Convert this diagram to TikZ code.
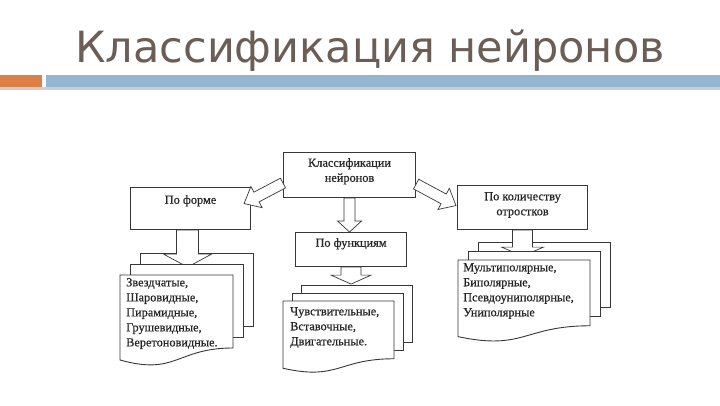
\documentclass[tikz,border=0pt]{standalone}
\usepackage{fontspec}
\setmainfont{Liberation Serif}
\newfontfamily\titlefont{DejaVu Sans}
\newfontfamily\diagfont[FakeBold=0.6]{Liberation Serif}
\usetikzlibrary{calc}

\definecolor{titlecol}{RGB}{107,94,86}
\definecolor{orangebar}{RGB}{221,128,71}
\definecolor{bluebar}{RGB}{148,182,210}
\definecolor{graybar}{RGB}{205,205,205}
\definecolor{linecol}{RGB}{55,55,55}

\tikzset{
  boxsty/.style={draw=linecol, line width=1.1pt, fill=white, inner sep=0pt},
  pagesty/.style={draw=linecol, line width=0.9pt, fill=white},
  arrsty/.style={draw=linecol, line width=0.7pt, fill=white, line join=miter},
  txt/.style={font=\diagfont\fontsize{12.3}{15}\selectfont, inner sep=0pt, text=black!85},
  boxtxt/.style={txt, align=center, anchor=north},
  listtxt/.style={txt, align=left, anchor=north west},
}

% block arrow: tail, tip, shaft half width, head half width, head length
\newcommand\blockarr[5]{%
  \draw[arrsty] let \p1=(#1), \p2=(#2),
      \n1={atan2(\y2-\y1,\x2-\x1)}, \n2={veclen(\x2-\x1,\y2-\y1)} in
    ($(\p1)+(\n1+90:#3)$) -- ++(\n1:{\n2-#5}) -- ++(\n1+90:{#4-#3}) -- (\p2)
    -- ($(\p2)+(\n1:-#5)+(\n1-90:#4)$) -- ++(\n1+90:{#4-#3})
    -- ++(\n1:{-(\n2-#5)}) -- cycle;}

% document stack: left, top, width, height, dx, dy
\newcommand\backpage[6]{%
  \filldraw[pagesty] ({#1+2*#5},{#2-2*#6}) rectangle ({#1+2*#5+#3},{#2-2*#6+0.802*#4});}
\newcommand\frontpages[6]{%
  \filldraw[pagesty] ({#1+#5},{#2-#6}) rectangle ({#1+#5+#3},{#2-#6+0.802*#4});
  \filldraw[pagesty] (#1,#2) -- ({#1+#3},#2) -- ({#1+#3},{#2+0.802*#4})
    .. controls ({#1+0.5*#3},{#2+0.802*#4}) and ({#1+0.5*#3},{#2+1.108*#4})
    .. (#1,{#2+0.934*#4}) -- cycle;}

\begin{document}
\begin{tikzpicture}[x=1pt, y=-1pt]
\useasboundingbox (0,0) rectangle (720,405);
\fill[white] (0,0) rectangle (720,405);

% title and bars
\node[font=\titlefont\fontsize{43}{50}\selectfont, text=titlecol, anchor=base, inner sep=0pt]
  (title) at (370,62) {Классификация нейронов};
\fill[graybar] (0,87) rectangle (720,90);
\fill[orangebar] (0,75) rectangle (42,87);
\fill[bluebar] (46,75) rectangle (720,87);

% boxes
\node[boxsty, anchor=north west, minimum width=132pt, minimum height=45pt] (top) at (283,152) {};
\node[boxsty, anchor=north west, minimum width=120pt, minimum height=42pt] (form) at (130,187) {};
\node[boxsty, anchor=north west, minimum width=111pt, minimum height=34pt] (func) at (295,232) {};
\node[boxsty, anchor=north west, minimum width=130pt, minimum height=44pt] (count) at (457,185) {};

\node[boxtxt] (toptxt) at ($(top.north)+(0,6)$) {Классификации\\нейронов};
\node[boxtxt] (formtxt) at ($(form.north)+(0,8)$) {По форме};
\node[boxtxt] (functxt) at ($(func.north)+(0,6)$) {По функциям};
\node[boxtxt] (counttxt) at ($(count.north)+(0,7)$) {По количеству\\отростков};

% arrows from the top box
\coordinate (ltail) at ($(top.west)+(0,8)$);
\coordinate (ltip) at ($(form.east)+(-7,-5)$);
\coordinate (rtail) at ($(top.east)+(0,9)$);
\coordinate (rtip) at ($(count.west)+(-1,-2)$);
\coordinate (mtip) at (top.south |- func.north);
\blockarr{ltail}{ltip}{5.5pt}{12pt}{14pt}
\blockarr{rtail}{rtip}{5.5pt}{12pt}{14pt}
\blockarr{top.south}{mtip}{5.5pt}{12pt}{11pt}

% document stacks with their arrows
\coordinate (fstack) at ($(form.south)+(-3,37)$);
\coordinate (ftail) at ($(form.south)+(-3,0)$);
\backpage{120}{275}{113}{91}{10}{11}
\blockarr{ftail}{fstack}{11pt}{24pt}{13pt}
\frontpages{120}{275}{113}{91}{10}{11}

\coordinate (nstack) at ($(func.south)+(0,17)$);
\backpage{283}{301}{111}{72}{9}{8}
\blockarr{func.south}{nstack}{10pt}{20pt}{9pt}
\frontpages{283}{301}{111}{72}{9}{8}

\coordinate (cstack) at ($(count.south)+(0,26)$);
\backpage{458}{260}{132}{82}{10}{9}
\blockarr{count.south}{cstack}{10pt}{21pt}{9pt}
\frontpages{458}{260}{132}{82}{10}{9}

% list texts
\node[listtxt] (formlist) at (126,278) {Звездчатые,\\Шаровидные,\\Пирамидные,\\Грушевидные,\\Веретоновидные.};
\node[listtxt] (funclist) at (290,307) {Чувствительные,\\Вставочные,\\Двигательные.};
\node[listtxt] (countlist) at (463,263) {Мультиполярные,\\Биполярные,\\Псевдоуниполярные,\\Униполярные};
\end{tikzpicture}
\end{document}
